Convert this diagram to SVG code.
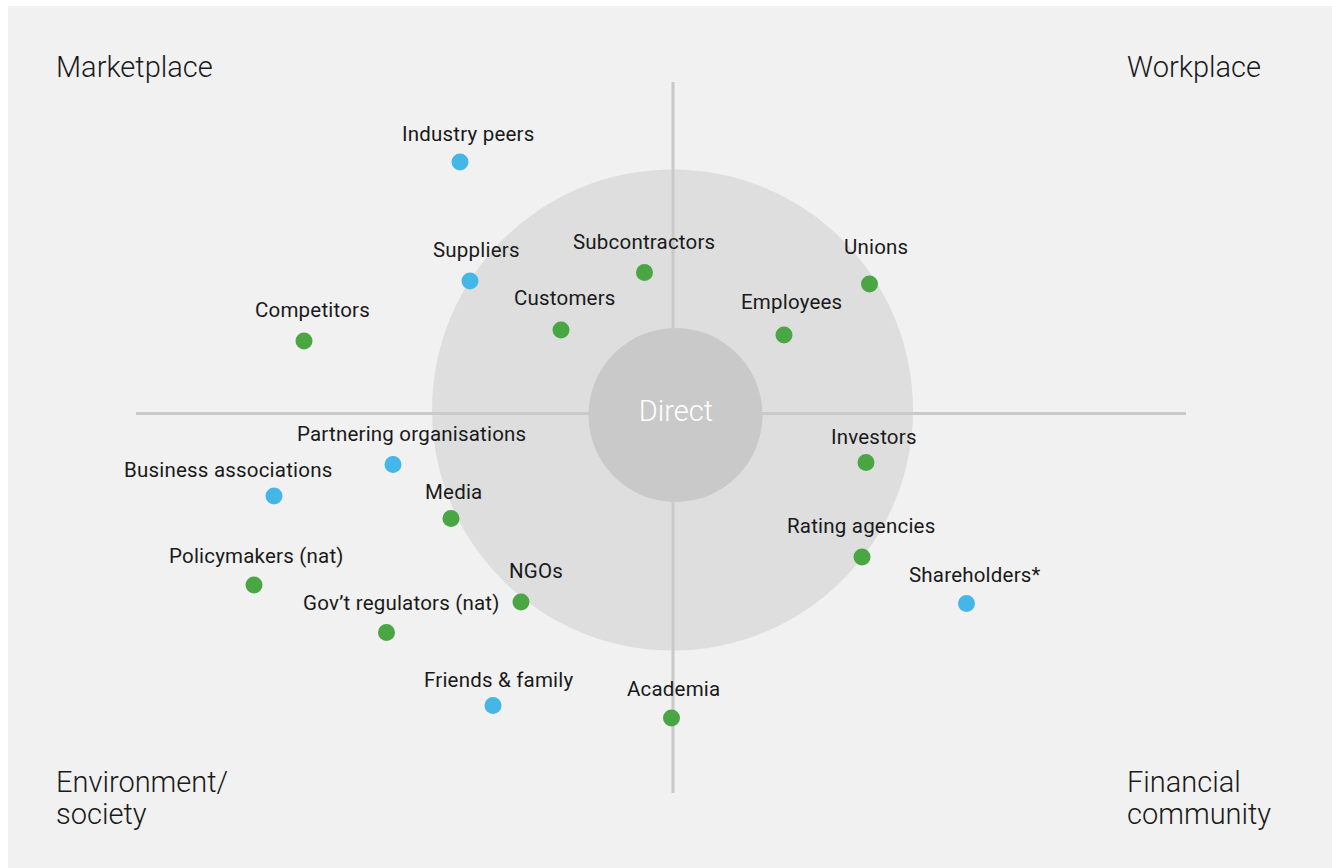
<svg xmlns="http://www.w3.org/2000/svg" width="1332" height="868" viewBox="0 0 1332 868">
  <style>
    .bg { fill: #f1f1f1; }
    .ring { fill: #dededf; }
    .core { fill: #c9c9c9; }
    .axis { stroke: #c9c9c9; stroke-width: 3; fill: none; }
    .lbl { font-family: Roboto, "Liberation Sans", sans-serif; font-size: 20.5px; letter-spacing: 0.2px; fill: #1a1a1a; }
    .big { font-family: Roboto, "Liberation Sans", sans-serif; font-size: 29px; font-weight: 300; fill: #1a1a1a; }
    .direct { font-family: Roboto, "Liberation Sans", sans-serif; font-size: 29px; font-weight: 300; fill: #ffffff; }
    .g { fill: #4aa543; }
    .b { fill: #45b6e8; }
  </style>
  <rect class="bg" x="8" y="6" width="1324" height="862"/>
  <g id="outer-ring"><circle class="ring" cx="672.5" cy="410" r="240.5"/></g>
  <g id="connectors">
    <line class="axis" x1="673" y1="82" x2="673" y2="793"/>
    <line class="axis" x1="136" y1="413.5" x2="1186" y2="413.5"/>
  </g>
  <g id="direct"><circle class="core" cx="675.5" cy="415" r="87"/><text class="direct" x="676" y="421" text-anchor="middle">Direct</text></g>

  <g id="quadrant-labels">
    <text class="big" x="56" y="77">Marketplace</text>
    <text class="big" x="1261" y="77" text-anchor="end">Workplace</text>
    <text class="big" x="56" y="792">Environment/</text>
    <text class="big" x="56" y="824">society</text>
    <text class="big" x="1127" y="792">Financial</text>
    <text class="big" x="1127" y="824">community</text>
  </g>

  <g id="industry-peers"><text class="lbl" x="402" y="141">Industry peers</text><circle class="b" cx="460" cy="162" r="8.5"/></g>
  <g id="suppliers"><text class="lbl" x="433" y="257">Suppliers</text><circle class="b" cx="470" cy="281" r="8.5"/></g>
  <g id="subcontractors"><text class="lbl" x="573" y="248.5">Subcontractors</text><circle class="g" cx="644.5" cy="272.5" r="8.5"/></g>
  <g id="customers"><text class="lbl" x="514" y="305">Customers</text><circle class="g" cx="561" cy="330" r="8.5"/></g>
  <g id="competitors"><text class="lbl" x="255" y="317">Competitors</text><circle class="g" cx="304" cy="341" r="8.5"/></g>
  <g id="unions"><text class="lbl" x="844" y="254">Unions</text><circle class="g" cx="869.5" cy="284" r="8.5"/></g>
  <g id="employees"><text class="lbl" x="741" y="309">Employees</text><circle class="g" cx="784" cy="335" r="8.5"/></g>
  <g id="investors"><text class="lbl" x="831" y="444">Investors</text><circle class="g" cx="866" cy="462.5" r="8.5"/></g>
  <g id="rating-agencies"><text class="lbl" x="787" y="533">Rating agencies</text><circle class="g" cx="862" cy="557" r="8.5"/></g>
  <g id="shareholders"><text class="lbl" x="909" y="581.5">Shareholders*</text><circle class="b" cx="966.5" cy="603.5" r="8.5"/></g>
  <g id="partnering-organisations"><text class="lbl" x="297" y="440.5">Partnering organisations</text><circle class="b" cx="393" cy="464.5" r="8.5"/></g>
  <g id="business-associations"><text class="lbl" x="124" y="477">Business associations</text><circle class="b" cx="274" cy="496" r="8.5"/></g>
  <g id="media"><text class="lbl" x="425" y="499">Media</text><circle class="g" cx="451" cy="518.5" r="8.5"/></g>
  <g id="policymakers"><text class="lbl" x="169" y="563">Policymakers (nat)</text><circle class="g" cx="254" cy="585" r="8.5"/></g>
  <g id="gov-regulators"><text class="lbl" x="303" y="610">Gov’t regulators (nat)</text><circle class="g" cx="386.5" cy="632.5" r="8.5"/></g>
  <g id="ngos"><text class="lbl" x="509" y="577.5">NGOs</text><circle class="g" cx="521" cy="602" r="8.5"/></g>
  <g id="friends-family"><text class="lbl" x="424" y="686.5">Friends &amp; family</text><circle class="b" cx="493" cy="705.5" r="8.5"/></g>
  <g id="academia"><text class="lbl" x="627" y="695.5">Academia</text><circle class="g" cx="671.5" cy="718" r="8.5"/></g>
</svg>
